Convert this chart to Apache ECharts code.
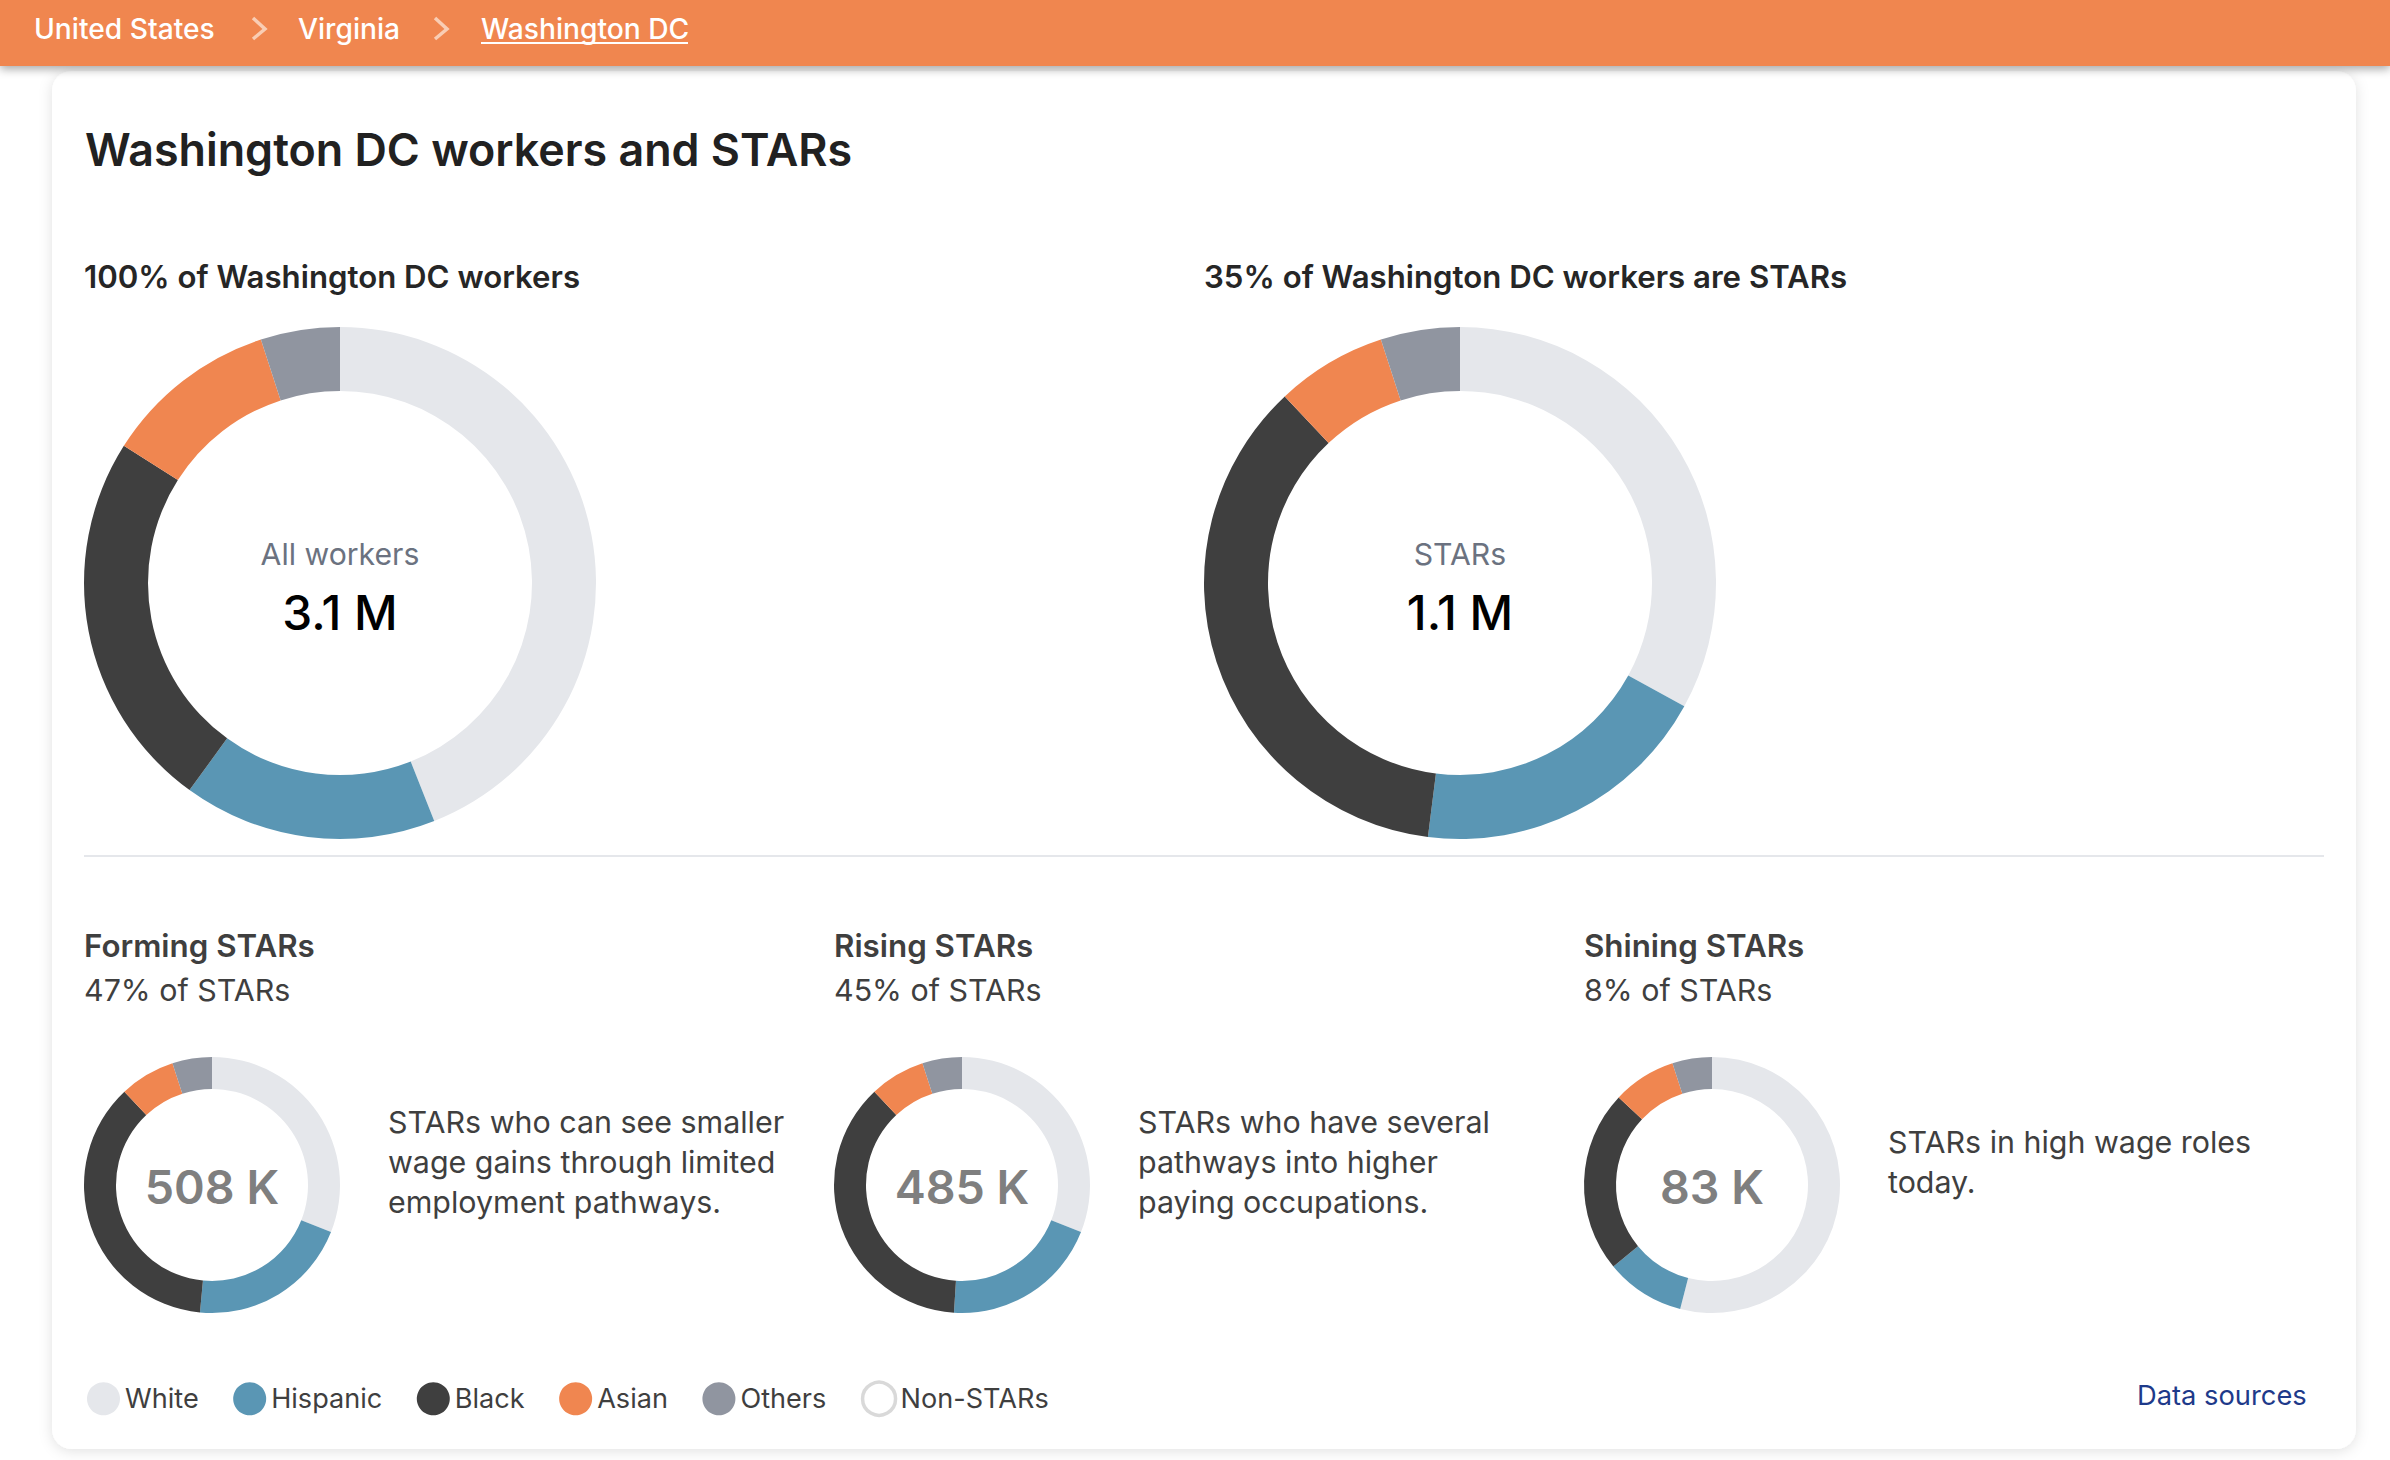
<!DOCTYPE html>
<html><head><meta charset="utf-8">
<style>html,body{margin:0;padding:0;background:#fff}#c{width:2390px;height:1460px}</style>
<script src="https://cdn.jsdelivr.net/npm/echarts@6/dist/echarts.min.js"></script>
</head><body><div id="c"></div>
<script>
const categories = ['White','Hispanic','Black','Asian','Others'];
const colors = ['#e5e7eb','#5a96b4','#3f3f3f','#f08650','#9095a0'];
const allWorkers = [44,16,24,11,5];
const allStars = [33,19,36,7,5];
const formingStars = [31,20.5,36.5,7,5];
const risingStars = [31,20,37,7,5];
const shiningStars = [54,10,23,8,5];
const crumbs = ['United States','Virginia','Washington DC'];
const pageTitle = 'Washington DC workers and STARs';
const subTitles = ['100% of Washington DC workers','35% of Washington DC workers are STARs'];
const centerLabels = ['All workers','STARs'];
const centerValues = ['3.1 M','1.1 M'];
const groupTitles = ['Forming STARs','Rising STARs','Shining STARs'];
const groupShares = ['47% of STARs','45% of STARs','8% of STARs'];
const groupValues = ['508 K','485 K','83 K'];
const groupText = [
  ['STARs who can see smaller','wage gains through limited','employment pathways.'],
  ['STARs who have several','pathways into higher','paying occupations.'],
  ['STARs in high wage roles','today.']
];

const FONT = 'Inter';
const t = (text,x,base,size,weight,fill,align) => ({
  type:'text', silent:true, z:10,
  style:{text,x,y:base-size*0.36,font:`${weight} ${size}px ${FONT}`,fill,align:align||'left',verticalAlign:'middle'}
});
const pie = (name,values,cx,cy,r0,r1) => ({
  type:'pie', name, silent:true, animation:false, startAngle:90, clockwise:true,
  center:[cx,cy], radius:[r0,r1], label:{show:false}, labelLine:{show:false},
  data:values.map((v,i)=>({name:categories[i],value:v,itemStyle:{color:colors[i]}}))
});

const graphic = [
  {type:'rect',silent:true,z:1,shape:{x:52,y:71,width:2304,height:1378,r:20},style:{fill:'#fff',shadowBlur:14,shadowColor:'rgba(0,0,0,0.12)',shadowOffsetY:2}},
  {type:'rect',silent:true,z:2,shape:{x:0,y:0,width:2390,height:66},style:{fill:'#f08650',shadowBlur:10,shadowColor:'rgba(0,0,0,0.35)',shadowOffsetY:3}},
  {type:'rect',silent:true,z:3,shape:{x:84,y:855,width:2240,height:2},style:{fill:'#e5e7eb'}},
  t(crumbs[0],34,39,28.2,500,'#ffffff'),
  t(crumbs[1],298,39,28.2,500,'#ffffff'),
  t(crumbs[2],481,39,28.2,500,'#ffffff'),
  {type:'polyline',silent:true,z:10,shape:{points:[[253,18],[265,29],[253,39]]},style:{stroke:'#f9cdb4',lineWidth:3.5,fill:'none'}},
  {type:'polyline',silent:true,z:10,shape:{points:[[435,18],[447,29],[435,39]]},style:{stroke:'#f9cdb4',lineWidth:3.5,fill:'none'}},
  {type:'rect',silent:true,z:10,shape:{x:481,y:42,width:207,height:2},style:{fill:'#ffffff'}},
  t(pageTitle,85,166,44.8,600,'#212121'),
  t(subTitles[0],84,288,31.2,600,'#262626'),
  t(subTitles[1],1204,288,31.2,600,'#262626'),
  t(centerLabels[0],340,565,30.2,400,'#6b7280','center'),
  t(centerValues[0],340,630.5,47.8,500,'#000000','center'),
  t(centerLabels[1],1460,565,30.2,400,'#6b7280','center'),
  t(centerValues[1],1460,630.5,47.8,500,'#000000','center'),
  t('Data sources',2137,1405,27.3,400,'#1e3a8a')
];
[84,834,1584].forEach((x,i)=>{
  graphic.push(t(groupTitles[i],x,957,31.3,600,'#3f3f3f'));
  graphic.push(t(groupShares[i],x,1001,30.4,400,'#3f3f3f'));
  graphic.push(t(groupValues[i],x+128,1203.5,46.6,600,'#7f7f7f','center'));
  const top = groupText[i].length===3 ? 1132.5 : 1152.5;
  groupText[i].forEach((s,j)=>graphic.push(t(s,x+304,top+j*40,30.4,400,'#3f3f3f')));
});

const chart = echarts.init(document.getElementById('c'),null,{renderer:'svg',width:2390,height:1460});
chart.setOption({
  animation:false,
  backgroundColor:'#ffffff',
  graphic,
  legend:{
    left:87, top:1380.5, orient:'horizontal', icon:'circle', itemWidth:33, itemHeight:33, itemGap:34.5,
    selectedMode:false, padding:0,
    textStyle:{fontFamily:FONT,fontSize:27.1,color:'#3f3f3f'},
    data:[...categories,{name:'Non-STARs',itemStyle:{color:'#ffffff',borderColor:'#d9d9d9',borderWidth:3.5}}]
  },
  series:[
    pie('All workers',allWorkers,340,583,192,256),
    pie('STARs',allStars,1460,583,192,256),
    pie('Forming STARs',formingStars,212,1185,96,128),
    pie('Rising STARs',risingStars,962,1185,96,128),
    pie('Shining STARs',shiningStars,1712,1185,96,128),
    {type:'pie',name:'Non-STARs',silent:true,data:[],showEmptyCircle:false,center:[0,0],radius:[0,0]}
  ]
});
</script></body></html>
